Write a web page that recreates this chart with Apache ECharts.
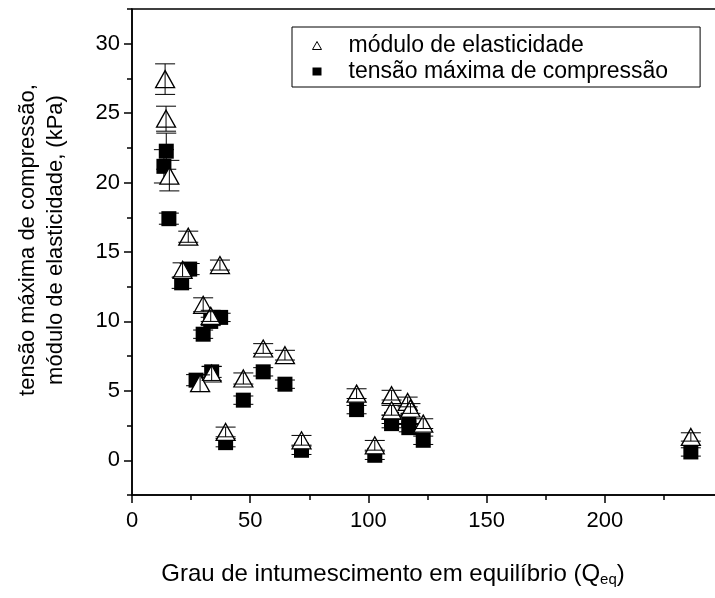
<!DOCTYPE html>
<html>
<head>
<meta charset="utf-8">
<script src="https://cdn.jsdelivr.net/npm/echarts@6/dist/echarts.min.js"></script>
<style>
  html, body { margin: 0; padding: 0; background: #fff; }
  #chart { width: 715px; height: 598px; }
</style>
</head>
<body>
<div id="chart"></div>
<script>
// Módulo de elasticidade (kPa) vs grau de intumescimento
const moduloX   = [14.0, 14.4, 15.8, 23.8, 37.2, 21.4, 30.1, 33.3, 55.5, 64.7, 47.1, 33.7, 28.8, 39.6, 71.7, 95.0, 102.7, 109.8, 109.8, 116.6, 117.8, 123.2, 236.4];
const moduloY   = [27.45, 24.6, 20.5, 16.1, 14.06, 13.72, 11.2, 10.4, 8.05, 7.57, 5.89, 6.25, 5.55, 2.04, 1.44, 4.8, 1.08, 4.69, 3.6, 4.2, 3.73, 2.64, 1.68];
const moduloErr = [1.1, 0.9, 1.1, 0.4, 0.36, 0.5, 0.5, 0.4, 0.35, 0.35, 0.4, 0.5, 0.6, 0.35, 0.35, 0.35, 0.35, 0.35, 0.35, 0.35, 0.35, 0.35, 0.3];

// Tensão máxima de compressão (kPa) vs grau de intumescimento
const tensaoX   = [14.5, 13.5, 15.6, 24.4, 21.0, 37.5, 30.1, 33.3, 55.5, 64.7, 47.1, 33.7, 27.1, 39.6, 71.7, 95.0, 102.7, 109.8, 109.8, 117.1, 117.1, 123.2, 236.4];
const tensaoY   = [22.26, 21.17, 17.4, 13.77, 12.78, 10.29, 9.08, 10.0, 6.37, 5.48, 4.33, 6.37, 5.77, 1.27, 0.72, 3.65, 0.36, 2.64, 2.95, 2.88, 2.35, 1.44, 0.6];
const tensaoErr = [1.3, 1.2, 0.4, 0.4, 0.4, 0.3, 0.3, 0.3, 0.3, 0.3, 0.3, 0.4, 0.4, 0.3, 0.3, 0.3, 0.3, 0.3, 0.3, 0.3, 0.3, 0.3, 0.3];

const nameModulo = 'módulo de elasticidade';
const nameTensao = 'tensão máxima de compressão';
const xTitle = 'Grau de intumescimento em equilíbrio (Q{sub|eq})';
const yTitle = 'tensão máxima de compressão,\nmódulo de elasticidade, (kPa)';

const FONT = 'Liberation Sans, Arial, sans-serif';

function zip(xs, ys, es) {
  return xs.map((x, i) => es ? [x, ys[i], es[i]] : [x, ys[i]]);
}

// vertical error bar with caps, placed through the axis scales
function errorBar(params, api) {
  const x = api.value(0), y = api.value(1), e = api.value(2);
  const hi = api.coord([x, y + e]);
  const lo = api.coord([x, y - e]);
  const hw = 10;
  const st = { stroke: '#000', lineWidth: 1 };
  return {
    type: 'group',
    children: [
      { type: 'line', shape: { x1: hi[0], y1: hi[1], x2: lo[0], y2: lo[1] }, style: st },
      { type: 'line', shape: { x1: hi[0] - hw, y1: hi[1], x2: hi[0] + hw, y2: hi[1] }, style: st },
      { type: 'line', shape: { x1: lo[0] - hw, y1: lo[1], x2: lo[0] + hw, y2: lo[1] }, style: st }
    ]
  };
}

const black = '#000';
const chart = echarts.init(document.getElementById('chart'), null, { renderer: 'canvas' });

chart.setOption({
  animation: false,
  backgroundColor: '#fff',
  textStyle: { fontFamily: FONT, color: black },
  grid: {
    // the frame runs past the right edge of the page
    left: 132, top: 9, width: 591, bottom: 103,
    containLabel: false, outerBoundsMode: 'none',
    show: true, borderColor: black, borderWidth: 1.5, backgroundColor: 'transparent'
  },
  legend: {
    left: 292, top: 27,
    orient: 'vertical',
    padding: [7, 32, 4, 20],
    itemGap: 3,
    itemWidth: 9, itemHeight: 8,
    borderColor: black, borderWidth: 1,
    selectedMode: false,
    textStyle: { fontSize: 23, fontFamily: FONT, color: black, lineHeight: 22, padding: [0, 0, 0, 22] },
    data: [
      { name: nameModulo, icon: 'triangle', itemStyle: { color: '#fff', borderColor: black, borderWidth: 1 } },
      { name: nameTensao, icon: 'rect', itemStyle: { color: black } }
    ]
  },
  xAxis: {
    type: 'value', min: 0, max: 250, interval: 50,
    axisLine: { show: true, onZero: false, lineStyle: { color: black, width: 1.5 } },
    axisTick: { show: true, inside: false, length: 8, lineStyle: { color: black, width: 1.5 } },
    minorTick: { show: true, splitNumber: 2, length: 5, lineStyle: { color: black, width: 1.5 } },
    axisLabel: { fontSize: 22, color: black, fontFamily: FONT, margin: 15, showMaxLabel: false },
    splitLine: { show: false }
  },
  yAxis: [
    {
      // minor ticks every 2.5
      type: 'value', min: -2.5, max: 32.5, interval: 2.5, position: 'left',
      axisLine: { show: true, onZero: false, lineStyle: { color: black, width: 1.5 } },
      axisTick: { show: true, inside: false, length: 5, lineStyle: { color: black, width: 1.5 } },
      axisLabel: { show: false },
      splitLine: { show: false }
    },
    {
      // major ticks and labels every 5
      type: 'value', min: -2.5, max: 32.5, splitNumber: 7, position: 'left', offset: 0,
      axisLine: { show: false, onZero: false },
      axisTick: { show: true, inside: false, length: 8, lineStyle: { color: black, width: 1.5 } },
      axisLabel: { fontSize: 22, color: black, fontFamily: FONT, margin: 12, showMinLabel: false, showMaxLabel: false },
      splitLine: { show: false }
    }
  ],
  series: [
    {
      name: nameTensao, type: 'scatter', yAxisIndex: 0,
      symbol: 'rect', symbolSize: 15, z: 2,
      itemStyle: { color: black, opacity: 1 },
      data: zip(tensaoX, tensaoY)
    },
    {
      name: nameTensao + ' (erro)', type: 'custom', yAxisIndex: 0, z: 3,
      renderItem: errorBar, encode: { x: 0, y: 1 },
      data: zip(tensaoX, tensaoY, tensaoErr)
    },
    {
      name: nameModulo, type: 'scatter', yAxisIndex: 0,
      symbol: 'triangle', symbolSize: [19, 17], z: 4,
      itemStyle: { color: '#fff', borderColor: black, borderWidth: 1.3, opacity: 1 },
      data: zip(moduloX, moduloY)
    },
    {
      name: nameModulo + ' (erro)', type: 'custom', yAxisIndex: 0, z: 5,
      renderItem: errorBar, encode: { x: 0, y: 1 },
      data: zip(moduloX, moduloY, moduloErr)
    }
  ],
  graphic: [
    {
      type: 'text', x: 42, y: 240, rotation: Math.PI / 2,
      style: {
        text: yTitle, fontSize: 22, fontFamily: FONT, fill: black,
        align: 'center', verticalAlign: 'middle', lineHeight: 28
      }
    },
    {
      type: 'text', x: 393, y: 574,
      style: {
        text: xTitle, fontSize: 24, fontFamily: FONT, fill: black,
        align: 'center', verticalAlign: 'middle', lineHeight: 26,
        rich: {
          sub: { fontSize: 15, fontFamily: FONT, fill: black, lineHeight: 15, verticalAlign: 'bottom', padding: [20, 0, 0, 0] }
        }
      }
    }
  ]
});
</script>
</body>
</html>
